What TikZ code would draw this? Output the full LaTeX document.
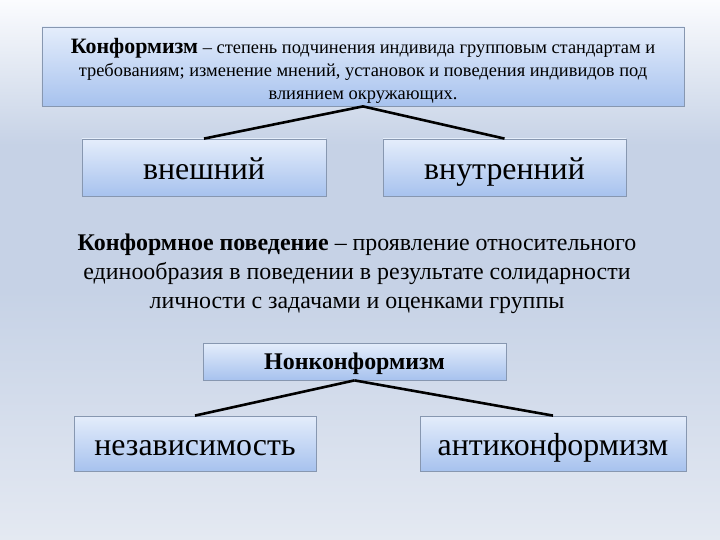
\documentclass[tikz,border=0pt]{standalone}
\usepackage{fontspec}
\setmainfont{Liberation Serif}
\newfontfamily\slideserif[Ligatures=TeX]{Liberation Serif}
\usetikzlibrary{arrows.meta}

\definecolor{bgtop}{HTML}{FBFCFE}
\definecolor{bgmid}{HTML}{C6D2E6}
\definecolor{bgbot}{HTML}{E4E9F2}
\definecolor{boxtop}{HTML}{E4EDFB}
\definecolor{boxbot}{HTML}{A7C2EE}
\definecolor{boxline}{HTML}{8797B0}

\begin{document}
\begin{tikzpicture}[x=1bp, y=-1bp,
  box/.style={draw=boxline, line width=0.8bp, top color=boxtop, bottom color=boxbot,
    inner sep=0pt, align=center},
  big/.style={font=\slideserif\fontsize{32}{34}\selectfont, text height=25bp, text depth=0bp},
  link/.style={line width=2.6bp, black}]
% background
\fill[top color=bgtop, bottom color=bgmid, middle color=bgmid] (0,0) rectangle (720,290);
\fill[top color=bgmid, bottom color=bgbot] (0,290) rectangle (720,540);
\useasboundingbox (0,0) rectangle (720,540);

\node[box, minimum width=642bp, minimum height=79bp, font=\slideserif\fontsize{18.5}{23}\selectfont]
  (def) at (363,66.5) {%
  \rule{0pt}{24bp}{\fontsize{22}{23}\selectfont\bfseries Конформизм} – степень подчинения индивида групповым стандартам и\\
  требованиям; изменение мнений, установок и поведения индивидов под\\
  влиянием окружающих.};

\node[box, big, minimum width=244bp, minimum height=57bp] (ext) at (204,167.5) {внешний};
\node[box, big, minimum width=243bp, minimum height=57bp] (int) at (504.5,167.5) {внутренний};

\draw[link] (def.south) -- (ext.north);
\draw[link] (def.south) -- (int.north);

\node[align=center, font=\slideserif\fontsize{24}{29}\selectfont] (beh) at (357,274) {%
  \textbf{Конформное поведение} – проявление относительного\\
  единообразия в поведении в результате солидарности\\
  личности с задачами и оценками группы};

\node[box, minimum width=303bp, minimum height=37bp, text height=16bp, text depth=1bp,
  font=\slideserif\fontsize{24}{26}\selectfont\bfseries] (non) at (354.5,361.5) {Нонконформизм};

\node[box, big, minimum width=242bp, minimum height=55bp, text height=23bp] (ind) at (195,443.5) {независимость};
\node[box, big, minimum width=266bp, minimum height=55bp, text height=23bp] (anti) at (553,443.5) {антиконформизм};

\draw[link] (non.south) -- (ind.north);
\draw[link] (non.south) -- (anti.north);

\end{tikzpicture}
\end{document}
